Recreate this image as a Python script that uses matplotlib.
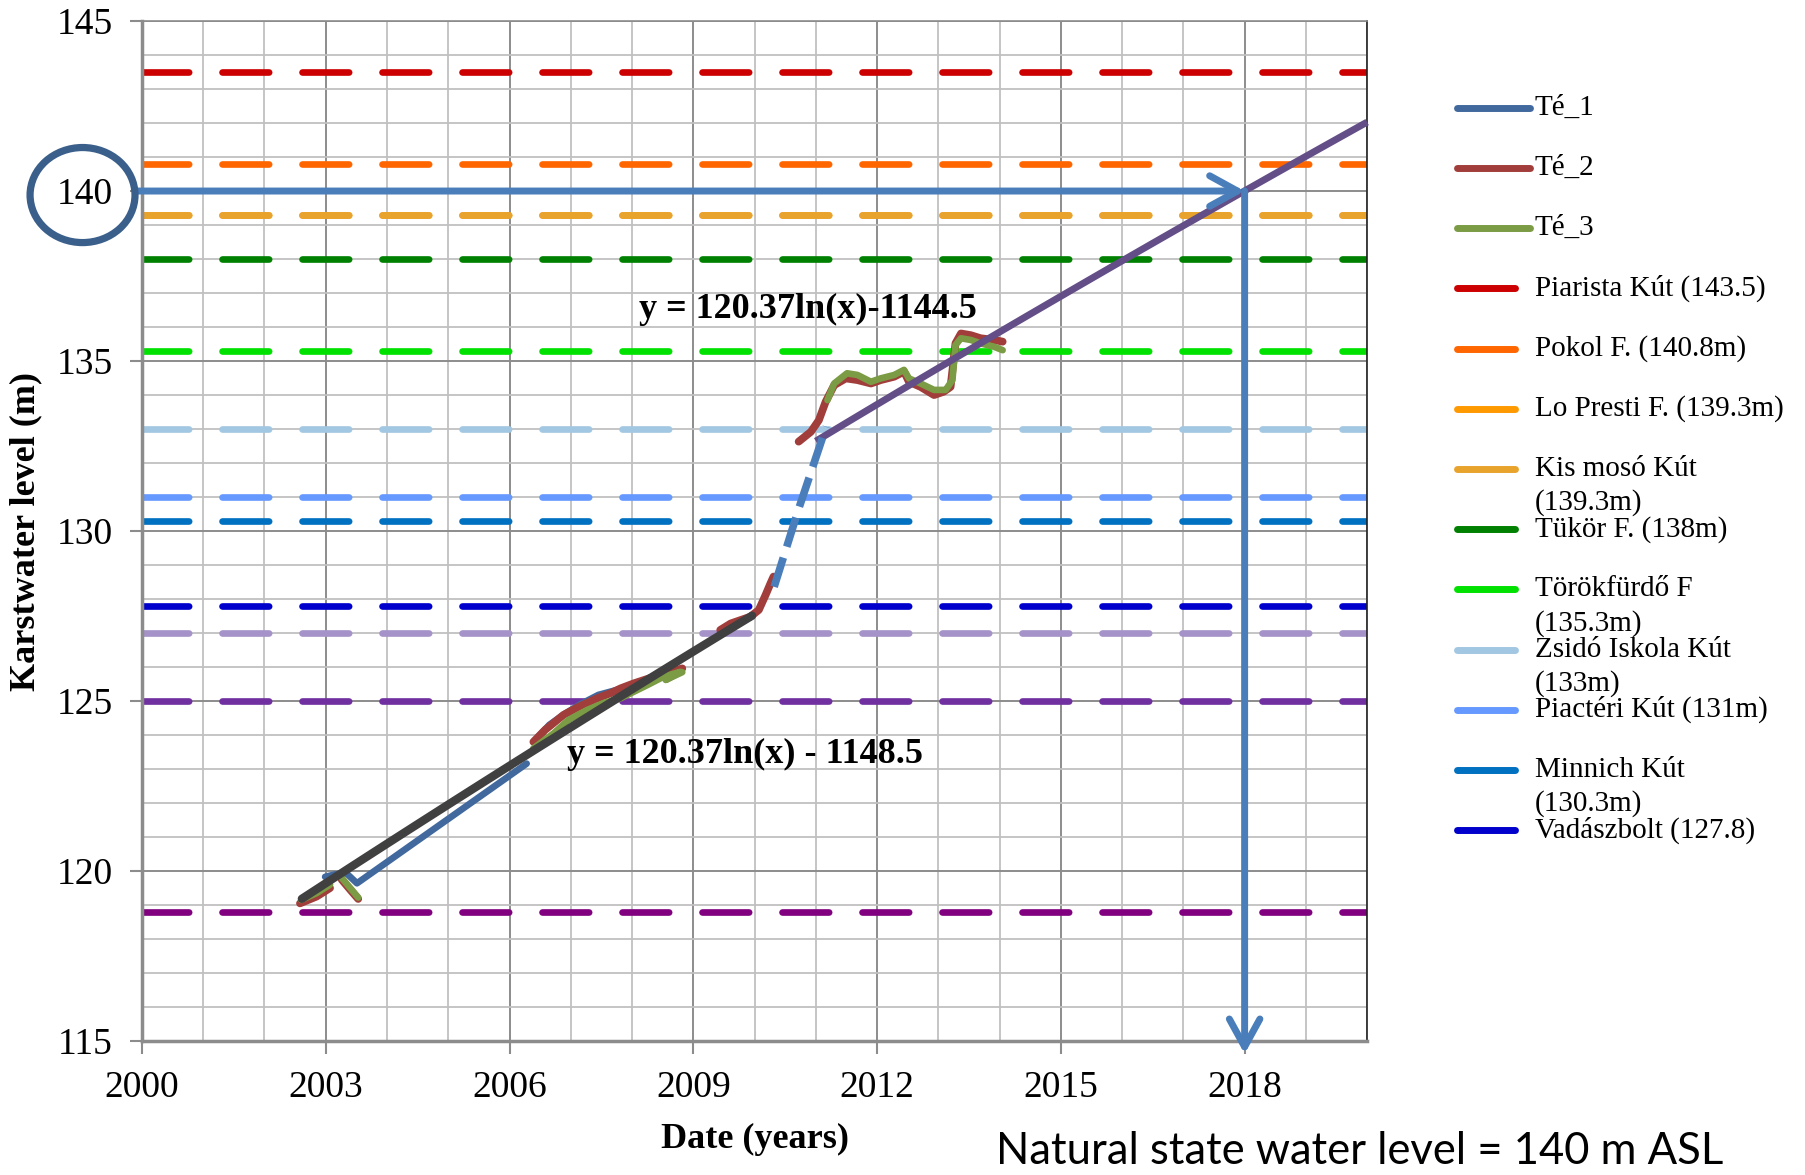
import numpy as np
import matplotlib
matplotlib.use("Agg")
import matplotlib.pyplot as plt
from matplotlib.lines import Line2D
from matplotlib.patches import Ellipse
from matplotlib.ticker import MultipleLocator, FixedLocator

nan = np.nan

# measured karst water levels (decimal year, m ASL), NaN = gap in record
te1_x = [2002.99, 2003.15, 2003.34, 2003.51, 2006.28, nan,
         2006.42, 2006.65, 2006.9, 2007.15, 2007.45, 2007.8, 2008.1, 2008.5]
te1_y = [119.83, 119.9, 119.93, 119.64, 123.16, nan,
         123.85, 124.3, 124.62, 124.9, 125.18, 125.35, 125.55, 125.8]

te2_x = [2002.58, 2002.85, 2003.07, nan,
         2003.26, 2003.4, 2003.53, nan,
         2006.39, 2006.58, 2006.88, 2007.13, 2007.43, 2007.65, 2007.81, 2008.03, 2008.52, 2008.82, nan,
         2009.44, 2009.61, 2009.93, 2010.07, 2010.18, 2010.26, 2010.31, nan,
         2010.72, 2010.92, 2011.05, 2011.16, 2011.30, 2011.49, 2011.68, 2011.90, 2012.06, 2012.28,
         2012.44, 2012.52, 2012.71, 2012.93, 2013.09, 2013.20, 2013.28, 2013.37, 2013.53, 2013.69,
         2013.91, 2014.05]
te2_y = [119.05, 119.25, 119.5, nan,
         119.75, 119.45, 119.18, nan,
         123.80, 124.15, 124.59, 124.83, 125.08, 125.23, 125.37, 125.52, 125.81, 125.96, nan,
         127.09, 127.28, 127.48, 127.68, 128.12, 128.46, 128.66, nan,
         132.63, 132.92, 133.26, 133.80, 134.29, 134.49, 134.44, 134.34, 134.44, 134.54,
         134.69, 134.39, 134.24, 134.00, 134.10, 134.24, 135.52, 135.81, 135.76, 135.67,
         135.62, 135.57]

te3_x = [2002.6, 2002.85, 2003.07, nan,
         2003.26, 2003.4, 2003.53, nan,
         2006.39, 2006.72, 2006.96, 2007.27, 2007.55, 2007.81, 2008.25, 2008.52, 2008.79, 2008.55, 2008.82, nan,
         2011.19, 2011.30, 2011.51, 2011.68, 2011.90, 2012.06, 2012.28, 2012.44, 2012.52, 2012.71,
         2012.93, 2013.12, 2013.23, 2013.28, 2013.37, 2013.53, 2013.69, 2013.91, 2014.05]
te3_y = [119.15, 119.35, 119.6, nan,
         119.8, 119.5, 119.22, nan,
         123.61, 124.05, 124.44, 124.74, 124.95, 125.08, 125.47, 125.72, 125.86, 125.62, 125.85, nan,
         133.85, 134.34, 134.64, 134.59, 134.39, 134.49, 134.59, 134.74, 134.49, 134.34,
         134.15, 134.15, 134.44, 135.47, 135.67, 135.62, 135.52, 135.42, 135.32]

# hand-drawn connection across the 2010 jump
jump_x = [2010.32, 2010.72, 2011.17]
jump_y = [128.36, 130.65, 133.07]

# spring / well reference levels
ref_names = ["Piarista Kút (143.5)", "Pokol F. (140.8m)", "Lo Presti F. (139.3m)",
             "Kis mosó Kút\n(139.3m)", "Tükör F. (138m)", "Törökfürdő F\n(135.3m)",
             "Zsidó Iskola Kút\n(133m)", "Piactéri Kút (131m)", "Minnich Kút\n(130.3m)",
             "Vadászbolt (127.8)", "", "", ""]
ref_levels = [143.5, 140.8, 139.3, 139.3, 138.0, 135.3, 133.0, 131.0, 130.3, 127.8, 127.0, 125.0, 118.8]
ref_colors = ["#CC0000", "#FF6600", "#FF9900", "#E8A32C", "#008000", "#00E100",
              "#A2C7E2", "#6699FF", "#0070C0", "#0000CC", "#A592C8", "#7030A0", "#800080"]

year_ticks = [2000, 2003, 2006, 2009, 2012, 2015, 2018]

# log trend lines, x = Excel date serial
trend1_a, trend1_b = 120.37, -1148.5
trend2_a, trend2_b = 120.37, -1144.5
trend1_span = (2002.61, 2009.96)
trend2_span = (2011.0, 2020.0)
natural_level = 140
natural_year = 2018


def excel_serial(t):
    return (t - 1900) * 365.25 + 1.5


plt.rcParams["font.family"] = ["Liberation Serif", "DejaVu Serif"]

fig = plt.figure(figsize=(18.06, 11.75), dpi=100, facecolor="white")
ax = fig.add_axes([0.0786, 0.114, 0.6784, 0.8681])

ax.set_xlim(2000, 2020)
ax.set_ylim(115, 145)
ax.xaxis.set_major_locator(FixedLocator(year_ticks))
ax.xaxis.set_minor_locator(MultipleLocator(1))
ax.yaxis.set_major_locator(MultipleLocator(5))
ax.yaxis.set_minor_locator(MultipleLocator(1))
ax.grid(which="minor", color="#C0C0C0", lw=1.3, zorder=0)
ax.grid(which="major", color="#8C8C8C", lw=1.4, zorder=0)
ax.set_axisbelow(True)
ax.tick_params(which="major", direction="out", length=9, width=1.5, color="#8C8C8C",
               labelsize=27, pad=12)
ax.tick_params(which="minor", length=0)
for side in ["left", "bottom"]:
    ax.spines[side].set_color("#8C8C8C")
    ax.spines[side].set_linewidth(2.5)
ax.spines["right"].set_color("#202020")
ax.spines["right"].set_linewidth(1.2)
ax.spines["top"].set_color("#8C8C8C")
ax.spines["top"].set_linewidth(1.2)

for lvl, col in zip(ref_levels, ref_colors):
    ax.plot([2000, 2020], [lvl, lvl], color=col, lw=4.8, dashes=(7, 5),
            dash_capstyle="round", zorder=2)

ax.plot(te1_x, te1_y, color="#41699E", lw=4.8, solid_capstyle="round", zorder=3)
ax.plot(te2_x, te2_y, color="#A13D3A", lw=5.6, solid_capstyle="round", zorder=4)
ax.plot(te3_x, te3_y, color="#7B9B44", lw=4.8, solid_capstyle="round", zorder=5)

tx = np.linspace(*trend1_span, 50)
ax.plot(tx, trend1_a * np.log(excel_serial(tx)) + trend1_b, color="#404040", lw=6, zorder=6,
        solid_capstyle="round")
tx = np.linspace(*trend2_span, 50)
ax.plot(tx, trend2_a * np.log(excel_serial(tx)) + trend2_b, color="#634E87", lw=5, zorder=6,
        solid_capstyle="butt", clip_on=False)
ax.plot(jump_x, jump_y, color="#4A7EBB", lw=5.5, dashes=(4, 1.5), zorder=7)

ax.text(2008.12, 136.53, "y = 120.37ln(x)-1144.5", fontsize=26, fontweight="bold",
        va="center", ha="left", zorder=8)
ax.text(2006.94, 123.44, "y = 120.37ln(x) - 1148.5", fontsize=26, fontweight="bold",
        va="center", ha="left", zorder=8)

arrow = dict(arrowstyle="->,head_length=1.0,head_width=0.55", color="#4A7EBB", lw=5,
             shrinkA=0, shrinkB=0, mutation_scale=20)
ax.annotate("", xy=(natural_year, natural_level), xytext=(1999.92, natural_level),
            arrowprops=arrow, annotation_clip=False, zorder=9)
ax.annotate("", xy=(natural_year, 114.62), xytext=(natural_year, natural_level),
            arrowprops=arrow, annotation_clip=False, zorder=9)

ax.set_xlabel("Date (years)", fontsize=26, fontweight="bold", labelpad=13)
ax.set_ylabel("Karstwater level (m)", fontsize=26, fontweight="bold", labelpad=10)

fig.patches.append(Ellipse((0.0457, 0.834), 0.0581, 0.0809, transform=fig.transFigure,
                           fill=False, ec="#3A5F8B", lw=5.2))

# legend, laid out row by row
leg_names = ["Té_1", "Té_2", "Té_3"] + ref_names[:10]
leg_colors = ["#41699E", "#A13D3A", "#7B9B44"] + ref_colors[:10]
W, H = 1806.0, 1175.0
for i, (name, col) in enumerate(zip(leg_names, leg_colors)):
    yy = 107.7 + 60.2 * i
    x_end = 1530 if i < 3 else 1515
    fig.add_artist(Line2D([1457 / W, x_end / W], [1 - yy / H, 1 - yy / H], color=col,
                          lw=5, solid_capstyle="round", transform=fig.transFigure))
    lines = name.split("\n")
    for k, part in enumerate(lines):
        fig.text(1535 / W, 1 - (yy + 34 * k) / H, part, fontsize=21, va="center", ha="left")

fig.text(0.5515, 0.0196, "Natural state water level = 140 m ASL", fontsize=31.4,
         family=["Lato", "DejaVu Sans"], va="center", ha="left")

fig.savefig("out.png", dpi=100, facecolor="white")
